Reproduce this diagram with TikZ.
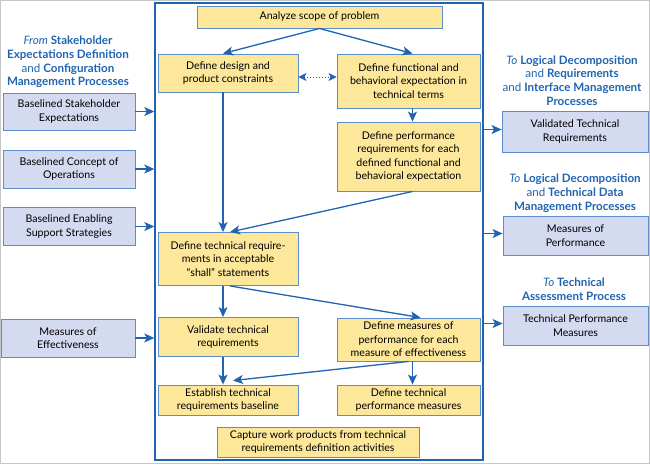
\documentclass[tikz,border=0pt]{standalone}
\usepackage{fontspec}
\setmainfont{Lato}
\usetikzlibrary{arrows.meta,calc}
\definecolor{flowblue}{HTML}{1F63B2}
\definecolor{boxline}{HTML}{5B8ECB}
\definecolor{taskfill}{HTML}{FCE79B}
\definecolor{iofill}{HTML}{D4DAF0}
\begin{document}
\begin{tikzpicture}[x=1pt, y=-1pt,
  taskbox/.style={draw=boxline, fill=taskfill, line width=.9pt, align=center,
    inner sep=1pt, font=\fontsize{10.6}{13.6}\selectfont},
  iobox/.style={draw=boxline, fill=iofill, line width=.9pt, align=center,
    inner sep=1pt, font=\fontsize{10.6}{13.6}\selectfont},
  header/.style={align=center, text=flowblue, font=\bfseries\fontsize{11.6}{13.8}\selectfont},
  flow/.style={draw=flowblue, line width=1.3pt, -{Stealth[length=10pt,width=9pt,inset=2.5pt]}},
  link/.style={draw=flowblue, line width=1pt, dotted,
    {Stealth[length=8pt,width=8pt,inset=2pt]}-{Stealth[length=8pt,width=8pt,inset=2pt]}}]
\useasboundingbox (0,0) rectangle (650,464);
\draw [gray!45, line width=1pt] (.5,.5) rectangle (649.5,463.5);

% main process frame
\node [draw=flowblue, line width=1.4pt, minimum width=328pt, minimum height=457pt,
  inner sep=0] (frame) at (319,231.5) {};

% tasks inside the frame
\node [taskbox, minimum width=245pt, minimum height=22pt] (analyze) at (319.5,17) {Analyze scope of problem};
\node [taskbox, minimum width=140pt, minimum height=38pt] (design) at (228,73) {Define design and\\product constraints};
\node [taskbox, minimum width=143pt, minimum height=54pt] (func) at (408.5,81) {Define functional and\\behavioral expectation in\\technical terms};
\node [taskbox, minimum width=143pt, minimum height=69pt] (perfreq) at (408.5,156.5) {Define performance\\requirements for each\\defined functional and\\behavioral expectation};
\node [taskbox, minimum width=140pt, minimum height=53pt] (techreq) at (228,259) {Define technical require-\\ments in acceptable\\``shall'' statements};
\node [taskbox, minimum width=140pt, minimum height=39pt] (validate) at (228,337) {Validate technical\\requirements};
\node [taskbox, minimum width=140pt, minimum height=30pt] (baseline) at (228,400) {Establish technical\\requirements baseline};
\node [taskbox, minimum width=143pt, minimum height=43pt] (mop) at (408.5,339.5) {Define measures of\\performance for each\\measure of effectiveness};
\node [taskbox, minimum width=143pt, minimum height=30pt] (tpm) at (408.5,400) {Define technical\\performance measures};
\node [taskbox, minimum width=202pt, minimum height=30pt] (capture) at (318,442) {Capture work products from technical\\requirements definition activities};

% inputs
\node [header] (fromhdr) at (68,62) {\mdseries\itshape From\upshape\bfseries{} Stakeholder\\Expectations Definition\\\mdseries and \bfseries Configuration\\Management Processes};
\node [iobox, minimum width=132pt, minimum height=37pt] (bse) at (69,111.5) {Baselined Stakeholder\\Expectations};
\node [iobox, minimum width=132pt, minimum height=38pt] (bco) at (69,169) {Baselined Concept of\\Operations};
\node [iobox, minimum width=132pt, minimum height=38pt] (bes) at (69,226.5) {Baselined Enabling\\Support Strategies};
\node [iobox, minimum width=134pt, minimum height=38pt] (moe) at (68,338) {Measures of\\Effectiveness};

% outputs
\node [header] (tohdra) at (572,80.5) {\mdseries\itshape To\upshape\bfseries{} Logical Decomposition\\\mdseries and \bfseries Requirements\\\mdseries and \bfseries Interface Management\\Processes};
\node [iobox, minimum width=146pt, minimum height=41pt] (vtr) at (575,131.5) {Validated Technical\\Requirements};
\node [header] (tohdrb) at (575,193) {\mdseries\itshape To\upshape\bfseries{} Logical Decomposition\\\mdseries and \bfseries Technical Data\\Management Processes};
\node [iobox, minimum width=145pt, minimum height=39pt] (mperf) at (575.5,235.5) {Measures of\\Performance};
\node [header] (tohdrc) at (574,289) {\mdseries\itshape To\upshape\bfseries{} Technical\\Assessment Process};
\node [iobox, minimum width=145pt, minimum height=39pt] (tpmout) at (575.5,325.5) {Technical Performance\\Measures};

% flow inside the frame
\draw [flow] (analyze.south) -- ([xshift=-5pt]design.north);
\draw [flow] (analyze.south) -- ([xshift=4pt]func.north);
\draw [link] ([yshift=-4pt]design.east) -- ([yshift=-4pt]design.east -| func.west);
\draw [flow] ([xshift=4pt]func.south) -- ([xshift=4pt]perfreq.north);
\draw [flow] ([xshift=-5pt]design.south) -- ([xshift=-5pt]techreq.north);
\draw [flow] ([xshift=4pt]perfreq.south) -- ([xshift=2pt]techreq.north);
\draw [flow] ([xshift=-5pt]techreq.south) -- ([xshift=-5pt]validate.north);
\draw [flow] ([xshift=2pt]techreq.south) -- ([xshift=12pt]mop.north);
\draw [flow] ([xshift=-5pt]validate.south) -- ([xshift=-5pt]baseline.north);
\draw [flow] ([xshift=0pt]mop.south) -- ([xshift=5pt,yshift=4pt]baseline.north);
\draw [flow] ([xshift=4pt]mop.south) -- ([xshift=4pt]tpm.north);

% inputs and outputs
\foreach \src in {bse, bco, bes, moe}
  \draw [flow] (\src.east) -- (\src.east -| frame.west);
\foreach \dst in {vtr, mperf, tpmout}
  \draw [flow] ([yshift=2pt]\dst.west -| frame.east) -- ([yshift=2pt]\dst.west);
\end{tikzpicture}
\end{document}
